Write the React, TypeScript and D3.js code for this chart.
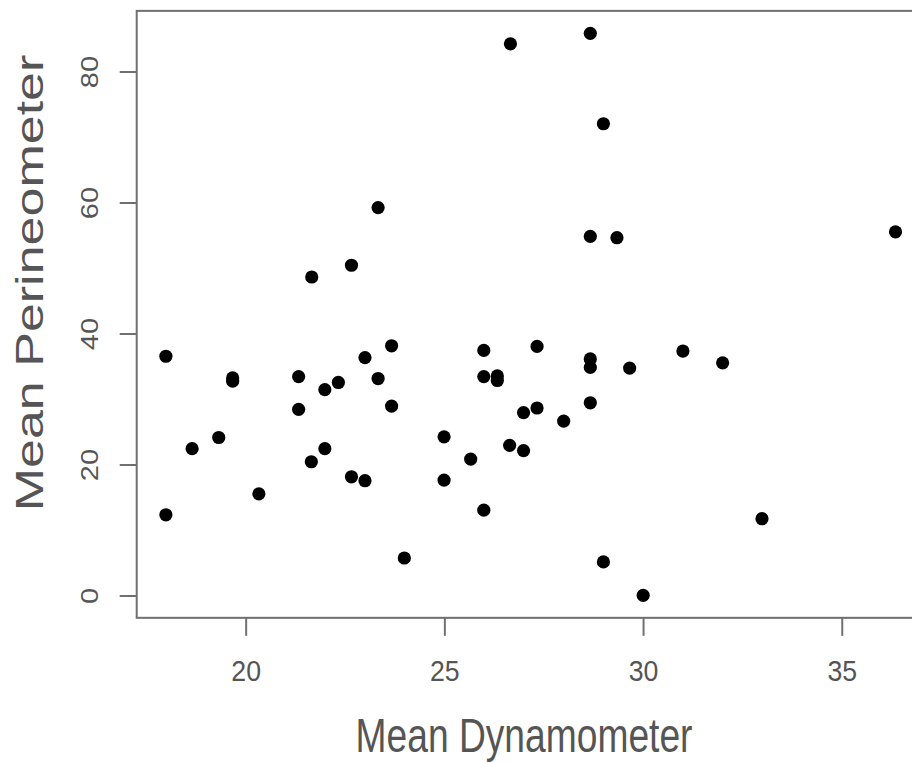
import * as d3 from "d3";

// Mean Dynamometer (x) and Mean Perineometer (y)
const dynamometer = [
  21.65, 22.65, 23.32, 26.65, 28.66, 28.99, 28.66, 29.33, 36.34,
  17.98, 19.66, 19.66, 21.32, 21.98, 22.32, 22.99, 23.32, 23.66, 23.66, 21.32,
  18.64, 19.31, 21.64, 21.98, 22.65, 22.99, 24.98, 24.98, 20.32, 17.98, 23.98,
  25.98, 27.32, 25.98, 26.32, 26.32, 28.66, 28.66, 29.65, 30.99, 31.99, 28.66,
  26.98, 27.32, 27.99, 26.63, 26.98, 25.65, 25.98, 32.98, 28.99, 29.99,
];
const perineometer = [
  48.7, 50.5, 59.3, 84.3, 85.9, 72.1, 54.9, 54.7, 55.6,
  36.6, 33.3, 32.8, 33.5, 31.5, 32.6, 36.4, 33.2, 38.2, 29.0, 28.5,
  22.5, 24.2, 20.5, 22.5, 18.2, 17.6, 24.3, 17.7, 15.6, 12.4, 5.8,
  37.5, 38.1, 33.5, 33.6, 32.9, 36.2, 34.9, 34.8, 37.4, 35.6, 29.5,
  28.0, 28.7, 26.7, 23.0, 22.2, 20.9, 13.1, 11.8, 5.2, 0.1,
];
const xTicks = [20, 25, 30, 35];
const yTicks = [0, 20, 40, 60, 80];

const W = 912;
const H = 762;

// R style padding: 4% on each side of the data range
const pad = (ext: [number, number]) => {
  const d = (ext[1] - ext[0]) * 0.04;
  return [ext[0] - d, ext[1] + d];
};

export default function App() {
  const xDom = pad(d3.extent(dynamometer) as [number, number]);
  const yDom = pad(d3.extent(perineometer) as [number, number]);
  const left = 136.7;
  const pxPerX = 39.74;
  const x = d3
    .scaleLinear()
    .domain(xDom)
    .range([left, left + (xDom[1] - xDom[0]) * pxPerX]);
  const bottom = 596 + (0 - yDom[0]) * 6.55;
  const y = d3
    .scaleLinear()
    .domain(yDom)
    .range([bottom, bottom - (yDom[1] - yDom[0]) * 6.55]);

  const [x0, x1] = x.range();
  const [y0, y1] = y.range();
  const axisColor = "#707070";
  const textColor = "#555";

  return (
    <svg
      width={W}
      height={H}
      style={{ position: "absolute", left: 0, top: 0, background: "#fff" }}
      fontFamily="'Liberation Sans', Arial, sans-serif"
    >
      <rect
        x={x0}
        y={y1}
        width={x1 - x0}
        height={y0 - y1}
        fill="none"
        stroke={axisColor}
        strokeWidth={2}
      />
      {xTicks.map((t) => (
        <g key={"x" + t}>
          <line x1={x(t)} x2={x(t)} y1={y0} y2={y0 + 18} stroke={axisColor} strokeWidth={2} />
          <text
            transform={`translate(${x(t)},${681}) scale(0.92,1)`}
            textAnchor="middle"
            fontSize={29}
            fill={textColor}
          >
            {t}
          </text>
        </g>
      ))}
      {yTicks.map((t) => (
        <g key={"y" + t}>
          <line x1={x0} x2={x0 - 17} y1={y(t)} y2={y(t)} stroke={axisColor} strokeWidth={2} />
          <text
            transform={`translate(${98},${y(t)}) scale(0.85,1) rotate(-90)`}
            textAnchor="middle"
            fontSize={29}
            fill={textColor}
          >
            {t}
          </text>
        </g>
      ))}
      {dynamometer.map((d, i) => (
        <circle key={i} cx={x(d)} cy={y(perineometer[i])} r={6.6} fill="#000" />
      ))}
      <text
        transform={`translate(${524},${752}) scale(0.775,1)`}
        textAnchor="middle"
        fontSize={48}
        fill={textColor}
      >
        Mean Dynamometer
      </text>
      <text
        transform={`translate(${43},${283}) scale(0.73,1) rotate(-90)`}
        textAnchor="middle"
        fontSize={52}
        fill={textColor}
      >
        Mean Perineometer
      </text>
    </svg>
  );
}
